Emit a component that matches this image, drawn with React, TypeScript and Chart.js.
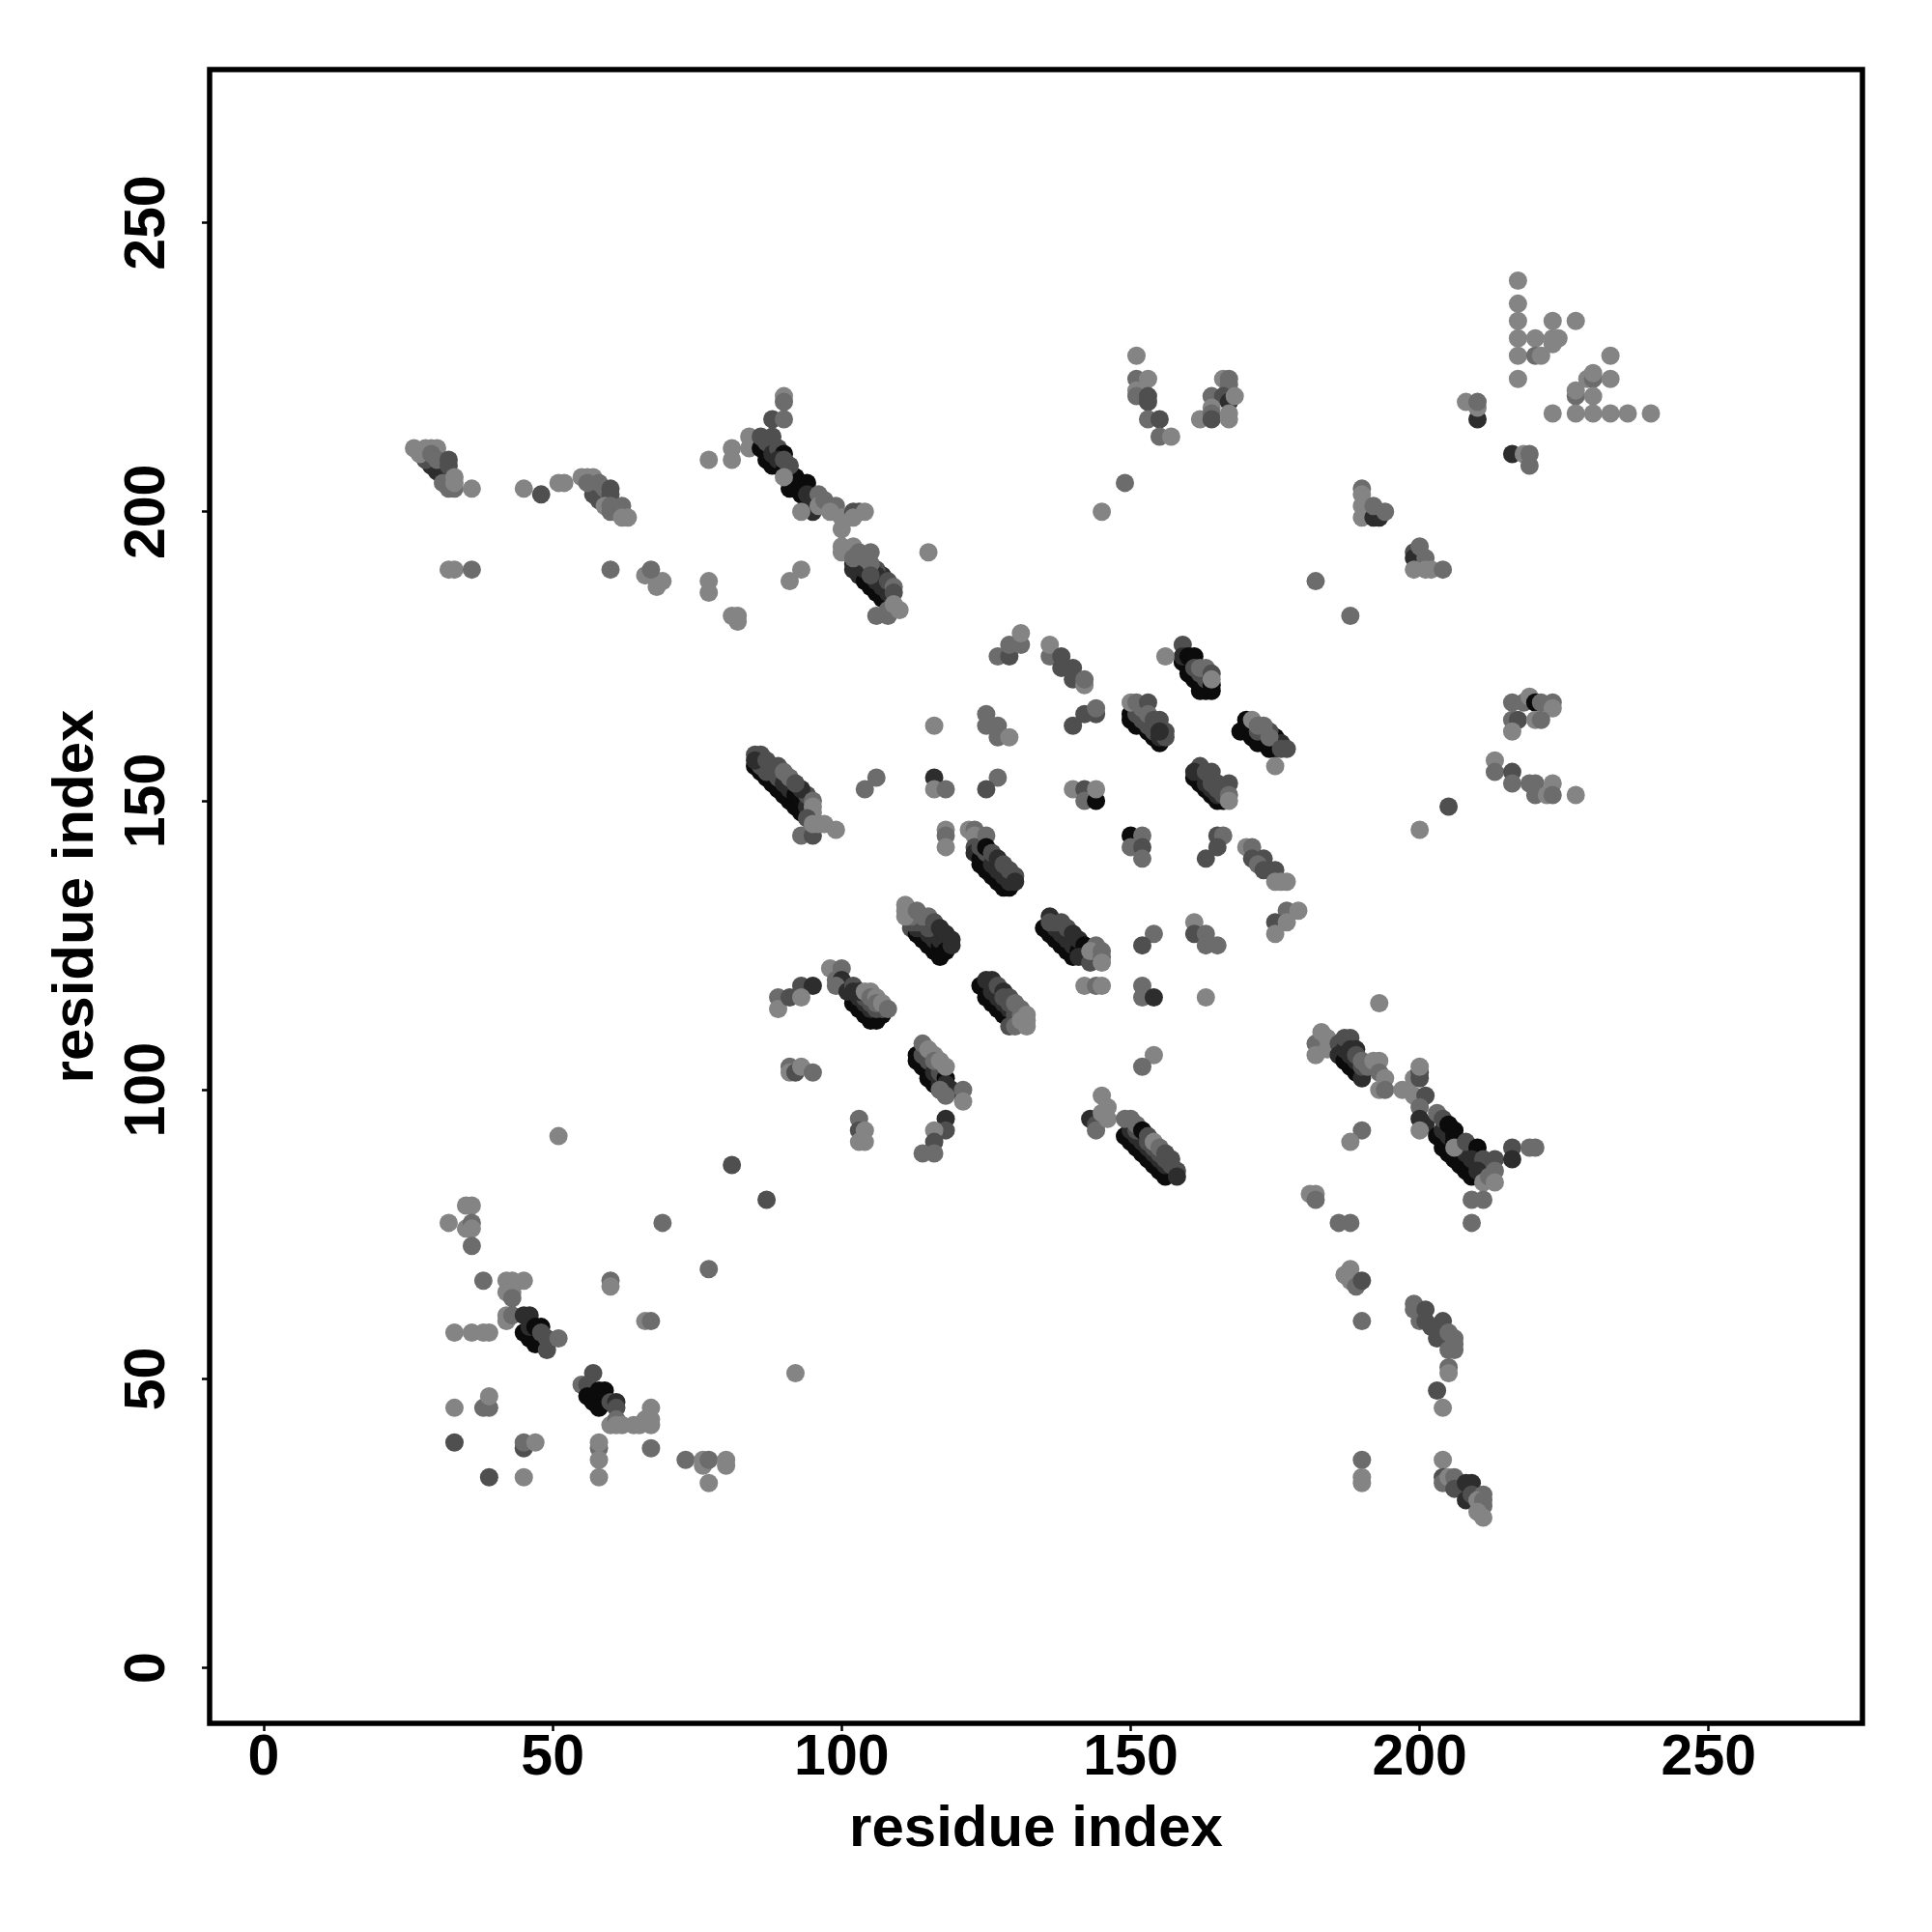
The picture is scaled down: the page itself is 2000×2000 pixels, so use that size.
import React, { useEffect, useRef } from "react";
import { Chart, registerables } from "chart.js";

Chart.register(...registerables);

type Contact = [number, number, number];

const tickValues = [0, 50, 100, 150, 200, 250];
const axisTitle = "residue index";

// Each contact is [residue i, residue j, strength]; strength runs 1 (weak) to 5 (strong).
const topLeftRun: Contact[] = [
  [29,208,4],[30,207,4],[31,206,4],[28,209,3],[26,211,1],[27,210,1],[28,211,1],[29,211,1],[30,211,1],[29,210,2],[30,209,2],
  [32,209,3],[32,208,3],[32,204,2],[33,204,2],[31,205,2],[33,206,1],[33,205,1],[36,204,1],
  [32,190,1],[33,190,1],[36,190,2],[45,204,1],[48,203,3],[51,205,1],[52,205,1],
  [57,203,3],[58,202,3],[55,206,1],[56,206,1],[57,206,1],[56,205,2],[58,205,2],[59,204,2],[60,204,3],[60,203,3],
  [59,201,1],[60,201,2],[60,200,2],[62,201,2],[62,199,1],[63,199,1],[60,190,2],
  [66,189,1],[68,187,1],[69,188,1],[68,188,1],[67,190,2],[77,188,1],[77,186,1],[81,182,1],[82,182,1],[82,181,1],
  [91,188,1],[93,190,1],[77,209,1],[81,209,1],[81,211,1],[115,193,1],
];
const upperDiagonal: Contact[] = [
  [90,220,1],[90,219,2],[88,216,3],[90,216,2],[84,213,1],[84,211,1],
  [86,211,5],[87,210,5],[87,209,5],[88,208,5],[86,213,3],[87,212,3],[88,213,3],[88,211,3],[88,210,4],[89,211,3],[90,210,5],[89,209,4],
  [90,207,5],[91,206,5],[91,204,5],[92,204,5],[93,204,5],[94,204,5],[92,205,5],[92,206,5],[93,205,5],[94,205,5],[93,203,5],[90,209,3],[91,208,3],[90,206,1],
  [94,203,4],[95,202,4],[96,203,2],[95,200,4],[93,200,1],[96,201,1],[97,202,2],[99,201,2],[99,200,2],[98,200,1],[100,199,1],[100,197,1],
  [102,200,3],[103,200,3],[104,200,1],[102,199,1],
  [102,190,4],[102,191,4],[103,189,4],[104,188,5],[105,187,5],[106,186,5],[107,185,5],[107,189,4],[106,190,3],
  [103,192,3],[104,190,4],[105,190,4],[106,189,4],[106,188,4],[107,187,4],[108,186,4],[108,187,4],
  [100,194,1],[100,193,1],[102,194,1],[102,192,2],[103,193,2],[104,192,2],[105,193,2],[105,191,2],[105,189,3],[108,188,3],[109,187,2],[109,186,3],
  [106,182,2],[108,182,2],[108,183,2],[109,184,1],[110,183,1],
];
const upperMiddle: Contact[] = [
  [151,227,1],[151,223,2],[153,223,1],[151,221,1],[151,220,2],[153,220,3],[153,219,3],[153,216,2],[155,216,3],[155,213,2],[157,213,1],
  [149,205,2],[145,200,1],[166,223,1],[167,223,2],[167,222,2],[164,220,2],[166,220,3],[167,219,4],[168,220,1],
  [164,218,1],[162,216,1],[164,217,2],[164,216,3],[167,217,1],[167,216,1],
];
const topRightCorner: Contact[] = [
  [217,240,1],[217,236,1],[217,233,1],[217,230,1],[217,227,1],[217,223,1],[220,230,1],[220,227,2],[221,227,1],
  [223,233,1],[227,233,1],[223,229,1],[223,230,1],[224,230,1],[233,227,1],[229,223,1],[230,223,2],[230,224,1],[233,223,1],
  [227,220,2],[227,221,1],[230,220,1],[223,217,1],[227,217,1],[230,217,1],[233,217,1],[236,217,1],[240,217,1],
  [210,216,4],[208,219,1],[210,218,1],[210,219,2],[216,210,4],[218,210,1],[219,208,2],[219,210,2],
];
const rightUpper: Contact[] = [
  [190,204,2],[190,203,1],[190,201,1],[190,199,1],[192,199,4],[193,199,4],[192,201,2],[194,200,2],[182,188,2],[188,182,2],
  [199,193,3],[199,192,4],[200,191,4],[200,194,2],[201,192,2],[199,190,1],[201,190,1],[202,190,1],[204,190,2],
  [200,145,1],[205,149,3],
  [216,167,2],[218,167,2],[216,164,2],[217,164,3],[216,162,1],[219,168,1],[220,167,5],[221,167,2],[223,167,2],[223,166,1],[220,164,1],[221,164,2],
  [213,157,1],[213,155,2],[216,155,3],[216,153,2],[219,153,2],[220,153,2],[220,151,2],[222,151,1],[223,153,1],[223,151,2],[227,151,1],
];
const upperCentreLeft: Contact[] = [
  [127,175,2],[129,175,3],[129,177,2],[131,177,2],[131,179,1],
  [136,175,2],[136,177,1],[138,173,3],[138,175,3],[140,171,3],[140,173,3],[142,170,1],[142,171,2],
  [125,165,2],[125,163,2],[127,163,2],[127,161,2],[129,161,1],[116,163,1],
  [140,163,3],[142,165,3],[144,165,3],[144,166,2],
  [140,152,1],[142,152,3],[142,150,2],[144,150,5],[144,152,1],
  [106,154,2],[104,152,2],[116,154,4],[116,152,1],[118,152,2],[127,154,2],[125,152,3],
];
const upperCentreStripes: Contact[] = [
  [159,174,5],[160,173,5],[160,172,5],[161,171,5],[162,170,5],[163,169,5],[164,169,5],[163,170,5],[162,169,5],[159,177,3],[159,175,4],[160,175,5],[161,175,5],[161,173,3],[162,172,3],[163,171,3],[162,173,2],[163,173,2],[164,172,3],[164,170,5],[164,171,1],[156,175,1],
  [150,165,5],[150,164,5],[151,163,5],[152,163,5],[153,162,5],[154,161,5],[155,160,5],[151,165,3],[152,164,3],[153,163,3],[154,162,3],[155,161,4],[156,161,3],[150,167,1],[151,167,2],[152,166,2],[153,167,3],[153,165,2],[154,164,3],[155,164,3],[156,162,3],[155,162,4],
  [169,162,5],[170,164,5],[170,163,5],[171,162,5],[171,161,5],[172,160,5],[173,161,5],[173,160,5],[174,159,5],[174,160,5],[175,161,5],[175,160,4],[176,160,4],[175,159,5],[172,162,3],[174,162,3],[171,164,1],[172,163,2],[173,163,2],[174,161,2],[176,159,3],[177,159,3],[175,156,1],
  [161,154,5],[162,153,5],[163,152,5],[164,151,5],[165,150,5],[166,150,5],[162,155,4],[163,153,4],[164,152,4],[165,151,4],[166,151,3],[165,152,3],[162,156,3],[161,155,4],[163,155,3],[164,155,3],[164,153,3],[165,153,3],[166,152,3],[167,153,3],[167,151,2],[167,150,1],
];
const middleLeftRun: Contact[] = [
  [85,156,5],[86,155,5],[87,154,5],[88,153,5],[89,152,5],[90,151,5],[91,150,5],[92,149,5],[93,148,5],[86,156,3],[87,155,3],[88,155,3],[89,154,3],[90,153,4],[91,152,4],[92,151,5],[93,150,5],[94,149,4],[94,151,3],
  [85,158,3],[86,158,3],[85,157,4],[87,157,3],[88,156,3],[89,156,3],
  [90,155,2],[91,154,2],[93,152,4],[92,153,3],[95,150,2],[95,149,1],[95,148,1],[94,147,3],[93,144,2],[95,144,3],[95,146,1],[96,146,1],[97,146,1],[99,145,1],
];
const middleCentreRun: Contact[] = [
  [118,145,1],[118,144,2],[118,142,1],[122,145,1],[123,145,2],[123,144,1],
  [123,142,3],[123,141,4],[124,140,5],[124,139,5],[125,138,5],[126,137,5],[127,136,5],[128,135,5],[129,135,5],
  [124,142,3],[125,141,3],[126,139,4],[127,138,4],[128,137,4],[129,136,4],
  [125,144,2],[125,142,5],[126,141,3],[127,140,4],[128,139,3],[129,138,3],[130,137,3],[130,136,4],
  [150,144,5],[152,144,2],[150,142,2],[152,142,3],[152,140,2],[165,144,3],[166,144,2],[165,142,3],[163,140,3],
  [170,142,1],[171,142,2],[171,140,3],[173,140,3],[172,139,2],[173,138,3],[175,138,3],[175,136,1],[176,136,1],[177,136,1],
];
const lowerCentreStripes: Contact[] = [
  [135,128,5],[136,127,5],[137,126,5],[138,125,5],[139,124,5],[140,123,5],[137,128,4],[138,127,4],[139,126,4],[140,125,4],[141,124,5],[142,123,5],[137,129,3],[136,130,4],[136,129,3],[138,129,3],[139,128,3],[140,127,4],[141,126,4],[142,125,5],[141,123,4],[143,122,3],[144,125,2],[143,124,1],[145,124,2],[145,123,2],[145,122,1],
  [111,132,1],[112,128,3],[113,127,5],[114,126,5],[115,125,5],[116,124,5],[117,123,5],[113,128,4],[114,128,4],[115,127,4],[116,126,4],[117,125,5],[116,127,4],[117,126,4],[118,125,4],[112,129,3],[113,129,3],[114,129,3],[115,128,3],[112,130,2],[111,131,1],[111,130,1],[112,131,1],[113,131,2],[114,130,2],[115,130,2],[116,129,3],[117,128,4],[118,127,4],[119,126,4],[118,124,5],[119,125,4],
  [154,127,2],[152,125,3],[161,129,1],[161,127,3],[163,127,2],[163,125,2],[165,125,2],[177,131,2],[179,131,1],[175,129,3],[177,129,1],[175,127,1],
  [142,118,1],[144,118,2],[145,118,1],[152,118,2],[152,116,2],[154,116,4],[163,116,1],
];
const lowerCentreLeft: Contact[] = [
  [89,116,2],[89,114,1],[91,116,3],[93,118,3],[95,118,4],[93,116,1],
  [102,115,5],[103,114,5],[104,113,5],[105,112,5],[106,112,5],[107,113,5],[106,113,5],[103,116,4],[104,115,4],[105,114,4],[104,116,3],[105,115,3],[106,114,3],[107,114,3],
  [98,121,1],[100,121,2],[99,119,2],[100,118,3],[100,119,4],[99,118,2],[101,117,4],[102,118,3],[102,117,4],[103,117,4],
  [104,117,1],[105,117,1],[105,116,2],[106,116,1],[106,115,2],[107,115,1],[108,114,2],
  [124,118,5],[125,116,5],[126,115,5],[127,114,5],[128,113,5],[129,112,5],[126,117,4],[127,116,4],[128,115,4],[129,114,4],[130,113,3],[130,112,3],[125,119,4],[126,119,4],[127,118,3],[128,117,4],[128,116,3],[129,116,3],[129,115,3],[130,114,3],[129,111,3],[130,115,2],[131,114,2],[131,113,2],[130,111,2],[132,113,1],[131,112,1],[132,112,1],[132,111,1],
];
const lowerMiddle: Contact[] = [
  [113,106,5],[113,105,5],[114,104,5],[115,103,5],[115,102,5],[116,101,5],[117,100,4],[114,106,3],[115,105,3],[116,104,3],[116,103,4],[117,102,4],[117,101,4],[117,103,3],[118,102,5],[118,101,4],[119,100,4],[118,99,2],[117,100,2],
  [114,108,2],[115,107,1],[116,106,1],[116,105,2],[117,105,1],[118,104,1],[121,100,2],[121,98,1],
  [91,104,2],[91,103,1],[92,103,3],[93,104,1],[95,103,2],[103,95,2],[103,93,3],[104,93,1],[103,91,1],[104,91,1],
  [118,95,4],[118,93,3],[116,93,1],[116,91,3],[114,89,2],[116,89,2],[81,87,3],[87,81,3],
  [154,106,1],[152,104,2],
  [143,95,4],[144,94,3],[144,93,2],[145,99,1],[145,96,1],[146,97,1],[146,95,1],
  [149,92,5],[150,91,5],[151,90,5],[152,89,5],[153,88,5],[154,87,5],[155,86,5],[156,85,5],[150,93,4],[151,92,4],[152,91,4],[153,90,4],[154,89,4],[155,88,4],[156,87,4],[151,93,3],[153,91,3],[154,90,3],[155,89,3],[156,88,3],
  [149,95,2],[150,95,2],[151,94,2],[152,93,5],[153,92,3],[154,91,1],[155,90,2],[156,89,3],[157,88,3],[157,87,3],[158,86,3],[158,85,4],
];
const lowerRight: Contact[] = [
  [193,115,1],[190,93,2],[188,91,1],[182,108,2],[182,106,1],[183,110,1],[184,109,1],[184,107,1],
  [186,108,3],[186,106,4],[187,105,5],[188,104,5],[189,103,5],[190,102,4],[187,107,4],[188,106,4],[189,105,4],[190,104,3],[187,109,3],[188,109,3],[188,107,4],[189,107,4],[189,106,3],[190,105,2],[191,104,2],
  [192,105,1],[193,105,1],[193,103,2],[194,102,1],[193,100,1],[194,100,2],[197,100,1],[199,99,1],[199,102,1],
  [200,102,3],[200,103,3],[200,104,1],[201,99,3],[200,97,2],[200,95,4],[201,94,4],[200,93,1],
  [203,92,5],[204,91,5],[204,90,5],[205,89,5],[206,88,5],[207,87,5],[208,86,5],[209,85,5],[204,93,4],[205,92,4],[206,91,5],[207,90,4],[208,89,4],[209,89,4],[207,91,3],[208,90,4],[210,88,4],[210,87,4],
  [203,96,2],[204,95,3],[205,94,5],[206,93,5],[206,92,5],[206,90,1],[208,91,3],[210,90,5],[209,88,4],[211,88,3],[213,88,3],[210,86,4],[213,86,2],[211,84,1],[212,85,2],[213,84,1],
  [216,90,3],[216,88,4],[219,90,2],[220,90,2],[209,81,2],[211,81,2],[209,77,2],[181,82,1],[182,82,1],[182,81,2],[186,77,2],[188,77,2],
];
const bottomRight: Contact[] = [
  [188,69,1],[187,68,1],[188,67,1],[189,66,2],[190,67,3],[190,60,2],
  [199,63,2],[199,62,2],[200,60,2],[201,62,3],[201,60,3],[202,59,3],[204,60,3],[203,57,3],[203,59,3],[205,58,2],[206,57,2],[206,56,2],[205,55,2],[206,55,2],
  [205,52,2],[205,51,1],[203,48,3],[204,45,1],[190,36,2],[190,33,1],[190,32,1],[204,36,1],[204,33,3],[204,32,2],[205,33,1],[206,33,2],[206,31,3],
  [208,32,4],[209,32,4],[208,29,4],[209,30,3],[211,30,2],[210,29,1],[211,29,2],[211,28,2],[210,27,1],[211,26,1],
];
const bottomLeft: Contact[] = [
  [51,92,1],[69,77,2],[77,69,2],[92,51,1],
  [35,80,1],[36,80,1],[32,77,1],[35,76,1],[36,77,2],[36,76,1],[36,73,2],[38,67,2],[42,67,1],[43,67,1],[45,67,1],[42,65,1],[43,65,1],[43,64,2],[42,61,1],[42,60,1],[43,61,2],
  [33,58,1],[36,58,1],[38,58,1],[39,58,1],
  [45,58,5],[46,57,5],[47,56,5],[45,61,4],[46,61,4],[46,59,4],[47,59,5],[48,59,5],[48,58,3],[49,57,3],[49,55,3],[51,57,2],
  [57,51,3],[55,49,2],[56,49,3],[56,47,5],[57,46,5],[58,45,5],[58,48,5],[59,48,5],[60,46,3],[61,46,4],[61,45,3],
  [60,42,1],[61,43,2],[61,42,1],[62,42,1],[64,42,1],[65,42,1],[66,43,1],[67,42,1],[67,43,1],[67,45,1],
  [33,45,1],[38,45,2],[39,45,2],[39,47,1],[33,39,3],[45,38,3],[45,39,2],[47,39,1],[39,33,3],[45,33,1],
  [58,38,2],[58,39,1],[58,36,1],[58,33,1],[67,38,2],[73,36,2],[76,36,1],[76,35,1],[77,36,2],[80,36,1],[80,35,1],[77,32,1],
  [60,67,2],[60,66,1],[66,60,1],[67,60,2],
];

const allContacts: Contact[] = [
  ...topLeftRun, ...upperDiagonal, ...upperMiddle, ...topRightCorner, ...rightUpper,
  ...upperCentreLeft, ...upperCentreStripes, ...middleLeftRun, ...middleCentreRun,
  ...lowerCentreStripes, ...lowerCentreLeft, ...lowerMiddle, ...lowerRight, ...bottomRight, ...bottomLeft,
];

const shadeOf: Record<number, string> = { 1: "#848484", 2: "#6c6c6c", 3: "#4f4f4f", 4: "#2d2d2d", 5: "#0b0b0b" };
const FONT = { family: "'Liberation Sans', Arial, sans-serif", size: 59, weight: "bold" as const };
const TITLE_FONT = { ...FONT, size: 60 };

const frameAndLabels = {
  id: "frameAndLabels",
  beforeDraw(chart: any) {
    const items = chart.scales.y.getLabelItems(chart.chartArea);
    for (const it of items) it.options.textAlign = "center";
  },
  afterDraw(chart: any) {
    const { ctx, chartArea: a } = chart;
    ctx.save();
    ctx.strokeStyle = "#000";
    ctx.lineWidth = 5.5;
    ctx.strokeRect(a.left, a.top, a.right - a.left, a.bottom - a.top);
    ctx.restore();
  },
};

export default function App() {
  const ref = useRef<HTMLCanvasElement>(null);
  useEffect(() => {
    document.body.style.margin = "0";
    const chart = new Chart(ref.current!, {
      type: "scatter",
      plugins: [frameAndLabels],
      data: {
        datasets: [
          {
            data: allContacts.map(([x, y]) => ({ x, y })),
            backgroundColor: allContacts.map((c) => shadeOf[c[2]]),
            borderWidth: 0,
            pointRadius: 9.5,
            pointHoverRadius: 9.5,
          },
        ],
      },
      options: {
        animation: false,
        responsive: false,
        events: [],
        layout: { padding: { top: 72, right: 72, left: 0, bottom: 0 } },
        plugins: { legend: { display: false }, tooltip: { enabled: false } },
        scales: {
          x: {
            type: "linear",
            min: -9.36,
            max: 276.6,
            afterBuildTicks: (s: any) => { s.ticks = tickValues.map((value) => ({ value })); },
            afterFit: (s: any) => { s.height = 216; s.paddingLeft = 0; s.paddingRight = 0; },
            border: { display: false },
            grid: { drawOnChartArea: false, drawTicks: true, tickLength: 8, tickWidth: 2.5, tickColor: "#000" },
            ticks: { color: "#000", font: FONT, padding: -7, maxRotation: 0, autoSkip: false },
            title: { display: true, text: axisTitle, color: "#000", font: TITLE_FONT, padding: { top: 0, bottom: 70 } },
          },
          y: {
            type: "linear",
            min: -9.58,
            max: 276.5,
            afterBuildTicks: (s: any) => { s.ticks = tickValues.map((value) => ({ value })); },
            afterFit: (s: any) => { s.width = 217; s.paddingTop = 0; s.paddingBottom = 0; },
            border: { display: false },
            grid: { drawOnChartArea: false, drawTicks: true, tickLength: 8, tickWidth: 2.5, tickColor: "#000" },
            ticks: { color: "#000", font: FONT, padding: 55, minRotation: 90, maxRotation: 90, autoSkip: false },
            title: { display: true, text: axisTitle, color: "#000", font: TITLE_FONT, padding: { top: 43, bottom: 0 } },
          },
        },
      },
    } as any);
    return () => chart.destroy();
  }, []);
  return <canvas ref={ref} width={2000} height={2000} style={{ display: "block", width: 2000, height: 2000 }} />;
}
